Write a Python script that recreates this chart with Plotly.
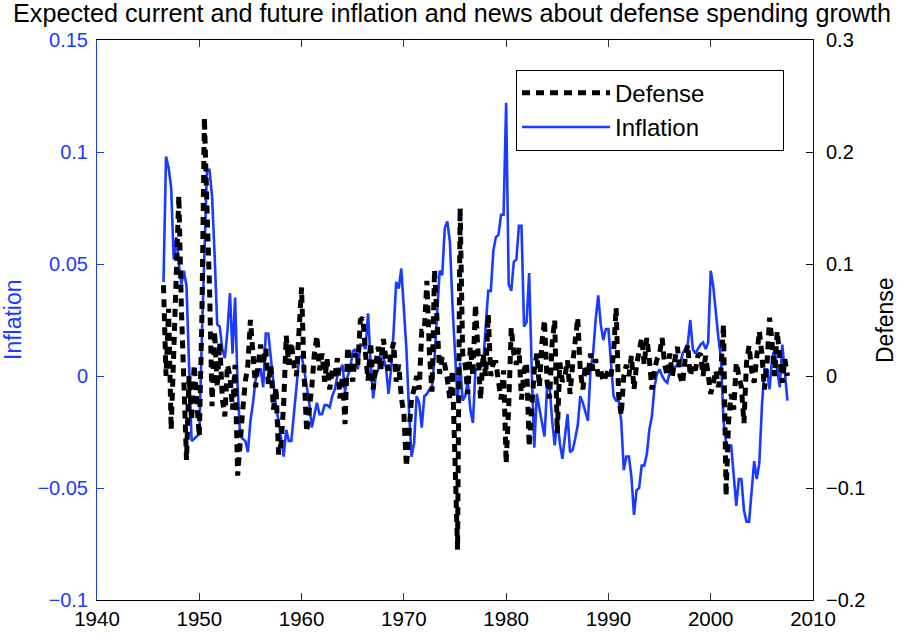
import plotly.graph_objects as go

TITLE = "Expected current and future inflation and news about defense spending growth"
START_YEAR = 1946.5  # first quarter shown

# Inflation (left axis), quarterly values, grouped by year
inflation = [
    0.042, 0.098,                       # 1946 (Q3-Q4)
    0.093, 0.084, 0.052, 0.062,         # 1947
    0.050, 0.041, 0.047, 0.040,         # 1948
    0.005, -0.029, -0.028, -0.027,      # 1949
    -0.026, 0.017, 0.060, 0.092,        # 1950
    0.092, 0.080, 0.054, 0.023,         # 1951
    0.022, 0.012, 0.008, 0.020,         # 1952
    0.037, 0.010, 0.035, -0.005,        # 1953
    -0.027, -0.028, -0.029, -0.034,     # 1954
    -0.020, -0.012, -0.002, 0.003,      # 1955
    0.003, -0.005, 0.019, 0.019,        # 1956
    0.007, -0.005, -0.014, -0.020,      # 1957
    -0.027, -0.036, -0.024, -0.029,     # 1958
    -0.029, -0.015, -0.005, 0.008,      # 1959
    0.009, 0.003, -0.005, -0.012,       # 1960
    -0.023, -0.018, -0.012, -0.017,     # 1961
    -0.017, -0.013, -0.013, -0.014,     # 1962
    -0.009, -0.006, 0.000, 0.002,       # 1963
    0.005, -0.007, 0.000, 0.003,        # 1964
    0.011, 0.012, 0.003, 0.014,         # 1965
    0.014, 0.012, 0.028, 0.006,         # 1966
    -0.010, 0.000, 0.003, 0.012,        # 1967
    0.008, 0.004, -0.008, 0.003,        # 1968
    0.020, 0.042, 0.039, 0.048,         # 1969
    0.030, 0.012, -0.015, -0.036,       # 1970
    -0.030, -0.009, -0.012, -0.023,     # 1971
    -0.009, -0.008, -0.006, -0.005,     # 1972
    0.008, 0.030, 0.047, 0.045,         # 1973
    0.066, 0.069, 0.060, 0.032,         # 1974
    0.010, -0.011, 0.006, -0.011,       # 1975
    -0.009, -0.002, -0.015, -0.021,     # 1976
    0.003, 0.003, 0.004, 0.005,         # 1977
    0.022, 0.038, 0.038, 0.056,         # 1978
    0.062, 0.063, 0.072, 0.072,         # 1979
    0.122, 0.041, 0.038, 0.051,         # 1980
    0.052, 0.067, 0.067, 0.022,         # 1981
    0.024, 0.046, 0.003, -0.032,        # 1982
    -0.008, -0.015, -0.020, -0.027,     # 1983
    -0.005, -0.005, -0.020, -0.031,     # 1984
    -0.019, -0.030, -0.037, -0.027,     # 1985
    -0.017, -0.034, -0.033, -0.028,     # 1986
    -0.022, -0.009, -0.012, -0.016,     # 1987
    -0.020, 0.003, 0.010, 0.025,        # 1988
    0.036, 0.023, 0.016, 0.021,         # 1989
    0.021, 0.006, -0.009, -0.011,       # 1990
    -0.011, -0.020, -0.042, -0.036,     # 1991
    -0.036, -0.045, -0.062, -0.051,     # 1992
    -0.050, -0.040, -0.040, -0.035,     # 1993
    -0.024, -0.018, -0.005, 0.001,      # 1994
    0.003, 0.000, -0.002, -0.003,       # 1995
    0.002, 0.002, 0.004, 0.005,         # 1996
    0.005, 0.010, 0.012, 0.014,         # 1997
    0.025, 0.012, 0.010, 0.012,         # 1998
    0.014, 0.015, 0.012, 0.015,         # 1999
    0.047, 0.040, 0.028, 0.017,         # 2000
    0.008, -0.020, -0.030, -0.031,      # 2001
    -0.031, -0.046, -0.058, -0.046,     # 2002
    -0.046, -0.060, -0.065, -0.065,     # 2003
    -0.050, -0.038, -0.046, -0.039,     # 2004
    -0.014, 0.003, 0.003, -0.006,       # 2005
    0.008, 0.012, 0.003, -0.005,        # 2006
    0.014, 0.003, -0.011,               # 2007 (Q1-Q3)
]

# Defense news (right axis), quarterly values, grouped by year
defense = [
    0.081, 0.000,                       # 1946
    0.060, -0.048, 0.020, 0.100,        # 1947
    0.161, 0.060, -0.020, -0.075,       # 1948
    0.000, -0.040, 0.010, -0.030,       # 1949
    -0.054, 0.050, 0.231, 0.150,        # 1950
    0.080, -0.027, 0.040, -0.010,       # 1951
    0.030, -0.020, -0.036, 0.010,       # 1952
    0.000, -0.030, 0.010, -0.089,       # 1953
    -0.050, -0.030, -0.005, 0.010,      # 1954
    0.050, 0.020, -0.010, 0.010,        # 1955
    0.028, 0.010, 0.025, -0.007,        # 1956
    0.010, -0.030, -0.010, -0.070,      # 1957
    -0.060, -0.025, 0.036, 0.010,       # 1958
    0.030, 0.010, 0.000, 0.040,         # 1959
    0.079, 0.000, -0.050, -0.030,       # 1960
    -0.010, 0.020, 0.036, 0.005,        # 1961
    0.020, -0.005, 0.015, -0.012,       # 1962
    0.005, 0.000, 0.016, -0.020,        # 1963
    0.000, -0.043, 0.026, 0.010,        # 1964
    -0.005, 0.020, 0.010, 0.050,        # 1965
    0.052, 0.020, -0.004, 0.030,        # 1966
    -0.012, 0.010, 0.026, 0.005,        # 1967
    0.033, 0.015, 0.005, 0.020,         # 1968
    0.030, -0.005, 0.010, -0.019,       # 1969
    -0.034, -0.081, -0.050, -0.020,     # 1970
    -0.012, 0.000, -0.012, 0.040,       # 1971
    0.040, 0.085, 0.020, -0.014,        # 1972
    0.095, 0.050, 0.002, 0.017,         # 1973
    0.010, -0.003, -0.021, 0.005,       # 1974
    -0.060, -0.155, 0.150, 0.020,       # 1975
    0.010, -0.016, 0.026, 0.000,        # 1976
    0.064, 0.010, -0.021, 0.020,        # 1977
    0.000, 0.055, 0.000, 0.012,         # 1978
    0.012, -0.005, -0.021, 0.005,       # 1979
    -0.078, -0.027, 0.043, 0.020,       # 1980
    0.010, 0.025, -0.021, 0.005,        # 1981
    0.012, -0.063, -0.021, 0.005,       # 1982
    0.020, -0.010, 0.030, 0.050,        # 1983
    -0.005, -0.020, 0.030, 0.050,       # 1984
    -0.051, 0.012, -0.005, 0.000,       # 1985
    0.014, -0.016, 0.010, 0.030,        # 1986
    0.052, 0.005, -0.012, 0.010,        # 1987
    0.000, 0.020, 0.005, 0.015,         # 1988
    0.000, 0.005, -0.005, 0.000,        # 1989
    0.005, 0.000, 0.020, 0.061,         # 1990
    -0.018, -0.035, 0.000, 0.010,       # 1991
    0.000, 0.018, -0.012, 0.010,        # 1992
    0.020, 0.034, 0.010, 0.034,         # 1993
    0.015, -0.012, 0.005, 0.015,        # 1994
    0.020, 0.034, 0.010, 0.000,         # 1995
    0.020, 0.000, 0.015, 0.026,         # 1996
    0.000, -0.007, 0.015, 0.028,        # 1997
    0.000, 0.010, 0.005, 0.018,         # 1998
    0.020, 0.000, 0.018, 0.000,         # 1999
    -0.016, -0.006, 0.005, -0.010,      # 2000
    0.005, 0.046, -0.107, -0.040,       # 2001
    -0.016, -0.030, 0.012, 0.000,       # 2002
    -0.010, -0.042, 0.012, 0.027,       # 2003
    0.005, -0.006, 0.015, 0.040,        # 2004
    0.020, -0.012, 0.010, 0.052,        # 2005
    0.030, 0.000, 0.040, 0.020,         # 2006
    -0.006, 0.015, 0.000,               # 2007
]

x_ticks = [1940, 1950, 1960, 1970, 1980, 1990, 2000, 2010]
left_ticks = [-0.1, -0.05, 0, 0.05, 0.1, 0.15]
left_labels = ["\u22120.1", "\u22120.05", "0", "0.05", "0.1", "0.15"]
right_ticks = [-0.2, -0.1, 0, 0.1, 0.2, 0.3]
right_labels = ["\u22120.2", "\u22120.1", "0", "0.1", "0.2", "0.3"]

n = len(inflation)
assert len(defense) == n
dates = [START_YEAR + 0.25 * i for i in range(n)]

BLUE = "#1a3cff"
FONT = "Liberation Sans, Arial, sans-serif"
PAD = "\u00a0" * 11  # widens the legend box like the reference

fig = go.Figure()
fig.add_trace(go.Scatter(
    x=dates, y=inflation, name="Inflation", mode="lines",
    line=dict(color=BLUE, width=2.6), yaxis="y",
))
fig.add_trace(go.Scatter(
    x=dates, y=defense, name="Defense" + PAD, mode="lines",
    line=dict(color="black", width=5, dash="8px,6px"), yaxis="y2",
))

fig.update_layout(
    width=904, height=642,
    margin=dict(l=97, r=91, t=40, b=37),
    paper_bgcolor="white", plot_bgcolor="white",
    font=dict(family=FONT, size=20, color="black"),
    title=dict(text=TITLE, x=0.5, xanchor="center", y=1 - 13 / 642, yanchor="middle",
               font=dict(family=FONT, size=25.2, color="black")),
    showlegend=True,
    legend=dict(x=(516 - 97) / 716, y=(605 - 70) / 565, xanchor="left", yanchor="top",
                bgcolor="white", bordercolor="black", borderwidth=1,
                traceorder="reversed", itemwidth=88,
                font=dict(family=FONT, size=24, color="black")),
    xaxis=dict(range=[1940, 2010], tickvals=x_ticks, ticktext=[str(v) for v in x_ticks],
               showgrid=False, zeroline=False, showline=True, linecolor="black", linewidth=1,
               mirror="ticks", ticks="inside", ticklen=7, tickcolor="#333",
               tickfont=dict(family=FONT, size=20.5, color="black")),
    yaxis=dict(range=[-0.1, 0.15], tickvals=left_ticks, ticktext=left_labels,
               showgrid=False, zeroline=False, showline=True, linecolor=BLUE, linewidth=1,
               ticks="inside", ticklen=7, tickcolor=BLUE, ticklabelstandoff=4,
               tickfont=dict(family=FONT, size=20, color=BLUE)),
    yaxis2=dict(range=[-0.2, 0.3], tickvals=right_ticks, ticktext=right_labels,
                overlaying="y", side="right",
                showgrid=False, zeroline=False, showline=True, linecolor="#111", linewidth=1,
                ticks="inside", ticklen=7, tickcolor="#111", ticklabelstandoff=8,
                tickfont=dict(family=FONT, size=20, color="black")),
    annotations=[
        dict(text="Inflation", xref="paper", yref="paper", x=(13 - 97) / 716, y=0.5,
             xanchor="center", yanchor="middle", textangle=-90, showarrow=False,
             font=dict(family=FONT, size=23, color=BLUE)),
        dict(text="Defense", xref="paper", yref="paper", x=(885 - 97) / 716, y=0.5,
             xanchor="center", yanchor="middle", textangle=-90, showarrow=False,
             font=dict(family=FONT, size=23, color="black")),
    ],
)

# Remove the browser's default 8px page margin so the 904x642 figure fills the window.
fig.write_html("out.html", config={"displayModeBar": False},
               post_script="document.body.style.margin='0px';")
